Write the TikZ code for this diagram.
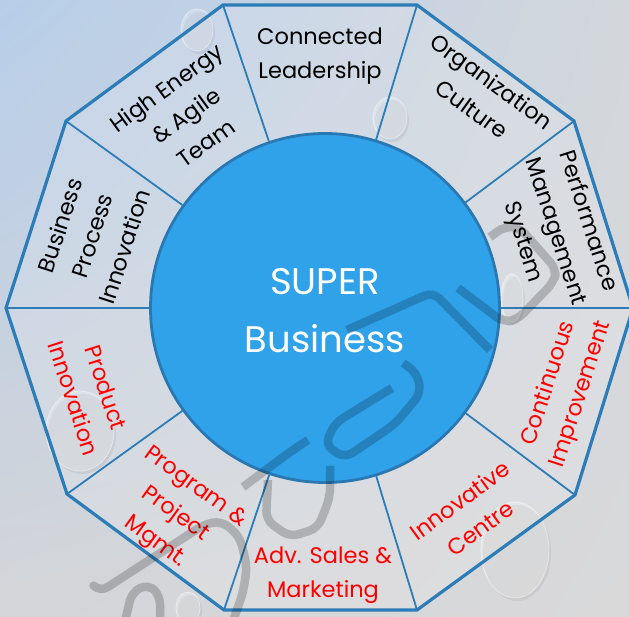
\documentclass[tikz,border=0pt]{standalone}
\usepackage{fontspec}
\setmainfont{Poppins}
\usetikzlibrary{calc,shadings}
\definecolor{edgeblue}{HTML}{2C7CB8}
\definecolor{discblue}{HTML}{2FA2EA}
\definecolor{discedge}{HTML}{2A78B2}
\definecolor{skyA}{HTML}{B7CEE9}
\definecolor{skyB}{HTML}{D3D7DC}
\definecolor{skyC}{HTML}{D4D5D8}
\definecolor{skyD}{HTML}{D9D9DA}
\begin{document}
\begin{tikzpicture}[x=1pt,y=1pt,
  rim/.style={draw=edgeblue, line width=3.2pt, line join=miter},
  spoke/.style={draw=edgeblue, line width=1.8pt},
  lbl/.style={align=center, inner sep=0pt, font=\fontsize{22.5}{34}\selectfont},
  blk/.style={lbl, text=black},
  redl/.style={lbl, text=red},
  wmark/.style={draw=black, draw opacity=0.2, line width=8.5pt, rounded corners=9pt, line join=round},
  dropshadow/.style={fill=black, fill opacity=0.06},
  dropbody/.style={fill=white, fill opacity=0.25, draw=white, draw opacity=0.45, line width=0.8pt}
]
\useasboundingbox (0,0) rectangle (629,616);
\begin{scope}
\clip (0,0) rectangle (629,616);
% background sky
\shade[upper left=skyA, upper right=skyB, lower left=skyC, lower right=skyD] (0,0) rectangle (629,616);
% decagon corners
\coordinate (v0) at (633,308);
\coordinate (v36) at (574,495);
\coordinate (v72) at (417,611);
\coordinate (v108) at (223,611);
\coordinate (v144) at (66,495);
\coordinate (v180) at (6,308);
\coordinate (v216) at (67,122);
\coordinate (v252) at (224,6);
\coordinate (v288) at (417,6);
\coordinate (v324) at (575,121);
\fill[white, fill opacity=0.15] (v0) -- (v36) -- (v72) -- (v108) -- (v144) -- (v180) -- (v216) -- (v252) -- (v288) -- (v324) -- cycle;
% water drops
\foreach \cx/\cy/\rx/\ry in {197/586/16/21, 390/498/17/21, 80/185/34/40, 515/66/34/48, 512/318/11/24, 188/8/12/16}{
  \fill[dropshadow] (\cx+2,\cy-3) ellipse [x radius=\rx, y radius=\ry];
  \path[dropbody] (\cx,\cy) ellipse [x radius=\rx, y radius=\ry];
}
% hub
\node[circle, fill=discblue, draw=discedge, line width=2.8pt, minimum size=349pt, inner sep=0pt] (hub) at (325,308) {};
% spokes
\foreach \v in {v0,v36,v72,v108,v144,v180,v216,v252,v288,v324}{
  \draw[spoke] (\v) -- (hub);
}
% rim
\draw[rim] (v0) -- (v36) -- (v72) -- (v108) -- (v144) -- (v180) -- (v216) -- (v252) -- (v288) -- (v324) -- cycle;
% labels
\node[blk] (connected) at (320,560) {Connected\\Leadership};
\node[blk, rotate=-36] (culture) at (482,521) {Organization\\Culture};
\node[blk, rotate=-72] (perf) at (555,384) {Performance\\Management\\System};
\node[redl, rotate=72] (ci) at (565,227) {Continuous\\Improvement};
\node[redl, rotate=36] (ic) at (470,102) {Innovative\\Centre};
\node[redl] (sales) at (323,41) {Adv. Sales \&\\Marketing};
\node[redl, rotate=-36] (ppm) at (175,101) {Program \&\\Project\\Mgmt.};
\node[redl, rotate=-72] (pi) at (90,223) {Product\\Innovation};
\node[blk, rotate=72] (bpi) at (92,380) {Business\\Process\\Innovation};
\node[blk, rotate=36] (team) at (186,501) {High Energy\\\& Agile\\Team};
\node[text=white, align=center, inner sep=0pt, font=\fontsize{37}{58}\selectfont] (hubtxt) at (325,305) {SUPER\\Business};
% watermark
\draw[wmark] (347,286) -- (433,324) -- (490,266);
\draw[wmark] (458,328) -- (503,294) -- (517,296) -- (553,333) -- (557,346) -- (520,388) -- (505,390) -- (490,379);
\draw[wmark] (392,228) -- (335,193) -- (325,171) -- (345,158) -- (395,192) -- (421,223) -- (417,243) -- (403,253);
\draw[wmark] (243,129) -- (290,164) -- (308,176);
\draw[wmark] (268,136) -- (266,96) -- (290,79) -- (318,88) -- (330,119) -- (330,150);
\draw[wmark] (94,30) -- (100,24) -- (205,92) -- (222,95) -- (240,79) -- (247,49) -- (243,23) -- (233,-5);
\draw[wmark] (125,-5) -- (132,24) -- (148,32) -- (160,21) -- (160,-5);
\end{scope}
\end{tikzpicture}
\end{document}
